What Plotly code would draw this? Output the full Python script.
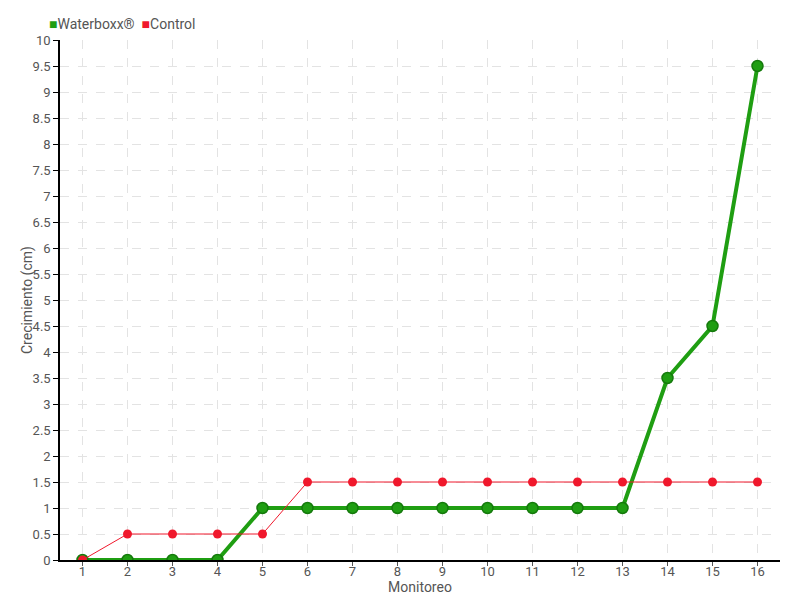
import plotly.graph_objects as go

monitoreo = list(range(1, 17))
waterboxx = [0, 0, 0, 0, 1, 1, 1, 1, 1, 1, 1, 1, 1, 3.5, 4.5, 9.5]
control = [0, 0.5, 0.5, 0.5, 0.5, 1.5, 1.5, 1.5, 1.5, 1.5, 1.5, 1.5, 1.5, 1.5, 1.5, 1.5]
series_names = ["Waterboxx®", "Control"]
y_ticks = [i * 0.5 for i in range(21)]
y_labels = [("%g" % v) for v in y_ticks]

GREEN = "#1f9e12"
RED = "#f0182c"
FONT = "Roboto, sans-serif"

fig = go.Figure()
fig.add_trace(go.Scatter(
    x=monitoreo, y=waterboxx, mode="lines+markers", name=series_names[0],
    line=dict(color=GREEN, width=4),
    marker=dict(size=11, color=GREEN, line=dict(color="#157a0c", width=1.5)),
))
fig.add_trace(go.Scatter(
    x=monitoreo, y=control, mode="lines+markers", name=series_names[1],
    line=dict(color=RED, width=1),
    marker=dict(size=9, color=RED),
))

legend_text = (
    "<span style='color:%s'>■</span>%s  <span style='color:%s'>■</span>%s"
    % (GREEN, series_names[0], RED, series_names[1])
)

fig.update_layout(
    width=800, height=600,
    margin=dict(l=52, r=28, t=32, b=48, autoexpand=False),
    paper_bgcolor="white", plot_bgcolor="white",
    font=dict(family=FONT, size=14, color="#555555"),
    showlegend=False,
    annotations=[
        dict(
            text=legend_text, xref="paper", yref="paper", x=-0.018, y=1.0,
            xanchor="left", yanchor="bottom", yshift=6, showarrow=False,
            font=dict(family=FONT, size=14, color="#555555"),
        ),
        dict(
            text="Crecimiento (cm)", xref="paper", yref="paper",
            x=-0.0458, y=0.5, xanchor="center", yanchor="middle",
            textangle=-90, showarrow=False,
            font=dict(family=FONT, size=14, color="#555555"),
        ),
    ],
    xaxis=dict(
        range=[0.5, 16.5], tickmode="array", tickvals=monitoreo,
        ticktext=[str(v) for v in monitoreo],
        tickfont=dict(size=13),
        showgrid=True, gridcolor="#e3e3e3", griddash="dash", gridwidth=1,
        showline=True, linecolor="#000000", linewidth=1.5,
        ticks="outside", ticklen=4, tickcolor="#555555",
        ticklabelstandoff=-5,
        zeroline=False,
        title=dict(text="Monitoreo", standoff=0, font=dict(size=14)),
    ),
    yaxis=dict(
        range=[0, 10], tickmode="array", tickvals=y_ticks, ticktext=y_labels,
        tickfont=dict(size=13),
        showgrid=True, gridcolor="#e3e3e3", griddash="dash", gridwidth=1,
        showline=True, linecolor="#000000", linewidth=1.5,
        ticks="outside", ticklen=5, tickcolor="#000000",
        zeroline=False,
    ),
)

fig.write_html("out.html")
